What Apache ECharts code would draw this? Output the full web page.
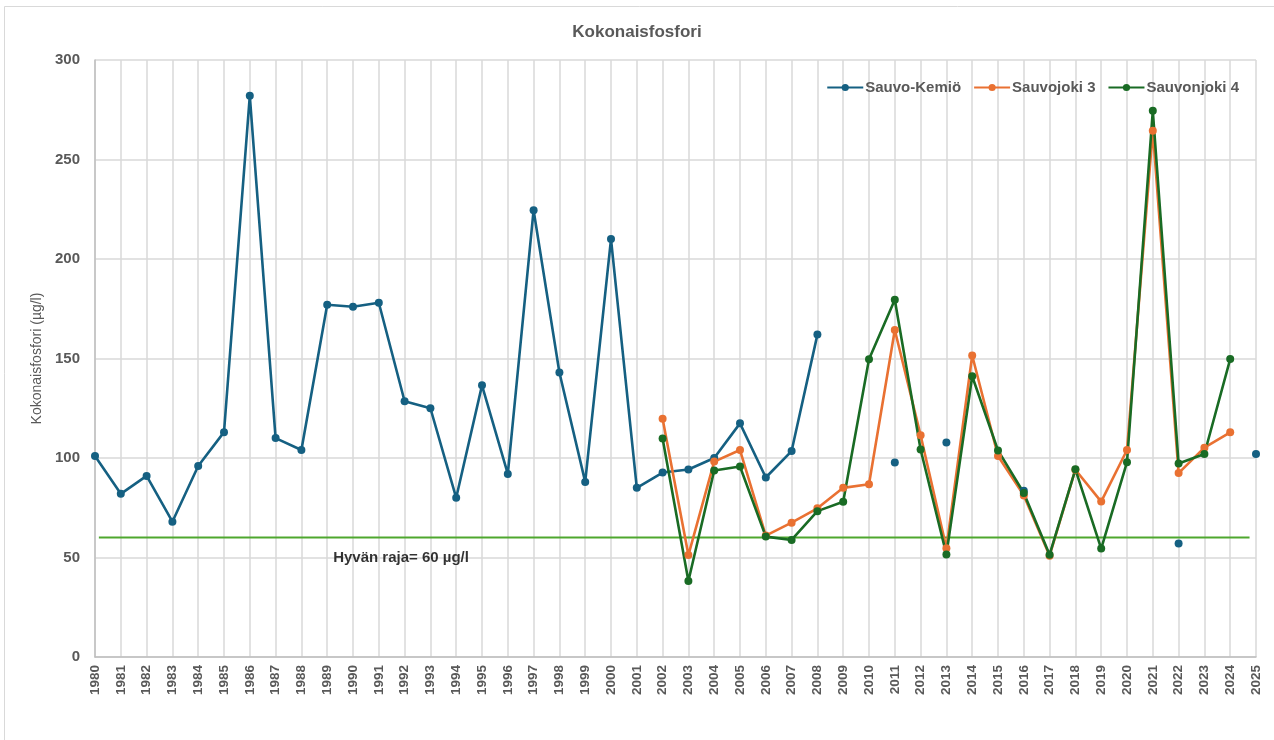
<!DOCTYPE html>
<html>
<head>
<meta charset="utf-8">
<script src="https://cdn.jsdelivr.net/npm/echarts@6/dist/echarts.min.js"></script>
<style>
  html, body { margin: 0; padding: 0; background: #ffffff; }
  #chart { width: 1274px; height: 740px; }
</style>
</head>
<body>
<div id="chart"></div>
<script>
// ---- Data ----
const years = [1980,1981,1982,1983,1984,1985,1986,1987,1988,1989,1990,1991,1992,1993,1994,1995,1996,1997,1998,1999,2000,2001,2002,2003,2004,2005,2006,2007,2008,2009,2010,2011,2012,2013,2014,2015,2016,2017,2018,2019,2020,2021,2022,2023,2024,2025];

const sauvoKemio = [101,82,91,68,96,113,282,110,104,177,176,178,128.5,125,80,136.5,92,224.5,143,88,210,85,92.7,94.2,100,117.4,90.2,103.5,162,null,null,97.7,null,107.8,null,null,83.6,null,null,null,null,null,57,null,null,102];

const sauvojoki3 = [null,null,null,null,null,null,null,null,null,null,null,null,null,null,null,null,null,null,null,null,null,null,119.7,51.2,98.2,104,61,67.5,74.7,85,86.8,164.3,111.4,54.7,151.5,101,81.2,50.9,94.1,78.1,104,264.5,92.4,105.2,112.9,null];

const sauvonjoki4 = [null,null,null,null,null,null,null,null,null,null,null,null,null,null,null,null,null,null,null,null,null,null,109.8,38.2,93.7,95.7,60.5,58.8,73.3,78,149.6,179.5,104.3,51.5,141.1,103.8,82.4,51.4,94.3,54.5,97.9,274.5,97.2,102,149.7,null];

const seriesNames = ['Sauvo-Kemiö', 'Sauvojoki 3', 'Sauvonjoki 4'];
const thresholdValue = 60;
const thresholdYears = [1980.15, 2024.75];
const thresholdLabel = 'Hyvän raja= 60 µg/l';
const thresholdLabelAt = [1989.23, 50];
const yTicks = [0, 50, 100, 150, 200, 250, 300];
const titleText = 'Kokonaisfosfori';
const yAxisName = 'Kokonaisfosfori (µg/l)';

// ---- Build ----
const pairs = arr => years.map((y, i) => [y, arr[i]]);
const colors = ['#156082', '#E97132', '#196B24'];
const tickFont = '"Liberation Sans", Arial, sans-serif';

const chart = echarts.init(document.getElementById('chart'), null, { renderer: 'canvas' });

function lineSeries(name, arr, color) {
  return {
    name: name,
    type: 'line',
    data: pairs(arr),
    connectNulls: false,
    showSymbol: true,
    showAllSymbol: true,
    symbol: 'circle',
    symbolSize: 8,
    lineStyle: { color: color, width: 2.6 },
    itemStyle: { color: color },
    z: 3
  };
}

const option = {
  animation: false,
  backgroundColor: '#ffffff',
  title: {
    text: titleText,
    left: 'center',
    top: 19,
    textStyle: { fontFamily: tickFont, fontSize: 17, fontWeight: 'bold', color: '#595959' }
  },
  legend: {
    data: seriesNames,
    right: 30,
    top: 75,
    itemWidth: 36,
    itemHeight: 9,
    itemGap: 12,
    textStyle: { fontFamily: tickFont, fontSize: 15, fontWeight: 'bold', color: '#595959', padding: [0, 0, 0, -3] }
  },
  grid: { left: 95, right: 18, top: 60, bottom: 83, containLabel: false },
  xAxis: {
    type: 'value',
    min: years[0],
    max: years[years.length - 1],
    interval: 1,
    axisLine: { show: true, lineStyle: { color: '#bfbfbf', width: 1.5 } },
    axisTick: { show: false },
    splitLine: { show: true, lineStyle: { color: '#d9d9d9', width: 1.5 } },
    axisLabel: {
      rotate: 90,
      margin: 8,
      color: '#595959',
      fontFamily: tickFont,
      fontSize: 13.5,
      fontWeight: 'bold',
      formatter: v => String(v)
    }
  },
  yAxis: {
    type: 'value',
    min: yTicks[0],
    max: yTicks[yTicks.length - 1],
    interval: 50,
    name: yAxisName,
    nameLocation: 'middle',
    nameGap: 50,
    nameTextStyle: { fontFamily: tickFont, fontSize: 14, color: '#595959' },
    axisLine: { show: true, lineStyle: { color: '#bfbfbf', width: 1.5 } },
    axisTick: { show: false },
    splitLine: { show: true, lineStyle: { color: '#d9d9d9', width: 1.5 } },
    axisLabel: {
      margin: 15,
      color: '#595959',
      fontFamily: tickFont,
      fontSize: 15,
      fontWeight: 'bold'
    }
  },
  graphic: [{
    type: 'rect',
    shape: { x: 4.5, y: 6.5, width: 1400, height: 900 },
    style: { fill: 'none', stroke: '#d9d9d9', lineWidth: 1 },
    silent: true,
    z: -10
  }],
  series: [
    {
      name: 'threshold',
      type: 'line',
      data: thresholdYears.map(x => [x, thresholdValue]),
      symbol: 'none',
      lineStyle: { color: '#4EA72E', width: 2 },
      z: 2,
      silent: true
    },
    {
      name: 'thresholdLabel',
      type: 'scatter',
      data: [thresholdLabelAt],
      symbolSize: 0,
      label: {
        show: true,
        position: 'right',
        distance: 0,
        formatter: thresholdLabel,
        fontFamily: tickFont,
        fontSize: 15,
        fontWeight: 'bold',
        color: '#000000'
      },
      silent: true
    },
    lineSeries(seriesNames[0], sauvoKemio, colors[0]),
    lineSeries(seriesNames[1], sauvojoki3, colors[1]),
    lineSeries(seriesNames[2], sauvonjoki4, colors[2])
  ]
};

chart.setOption(option);
</script>
</body>
</html>
